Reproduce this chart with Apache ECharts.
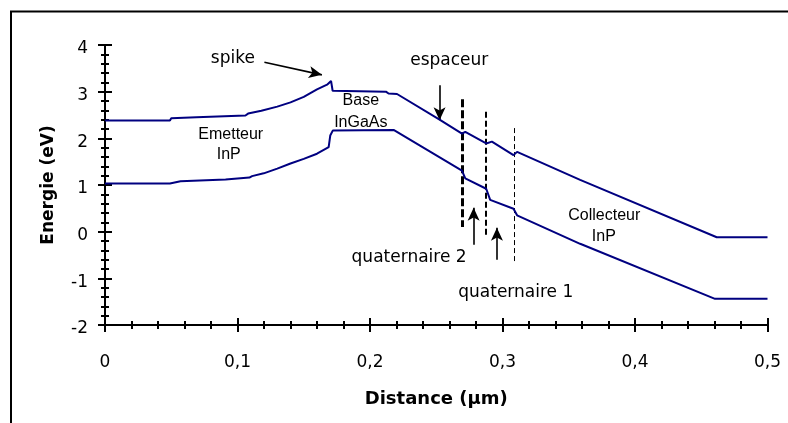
<!DOCTYPE html>
<html>
<head>
<meta charset="utf-8">
<script src="https://cdn.jsdelivr.net/npm/echarts@6/dist/echarts.min.js"></script>
<style>
html,body{margin:0;padding:0;background:#fff;}
#chart{width:788px;height:423px;}
</style>
</head>
<body>
<div id="chart"></div>
<script>
// ---- Data ----
const xTicks = [0, 0.1, 0.2, 0.3, 0.4, 0.5];
const yTicks = [-2, -1, 0, 1, 2, 3, 4];

// upper band edge: [distance (µm), energy (eV)]
const upperX = [0, 0.049, 0.050, 0.069, 0.070, 0.106, 0.108, 0.118, 0.130, 0.140, 0.150, 0.160, 0.1676, 0.1706, 0.1718, 0.212, 0.214, 0.2204, 0.2525, 0.2694, 0.2719, 0.2877, 0.292, 0.3083, 0.311, 0.3586, 0.4617, 0.5];
const upperY = [2.38, 2.38, 2.43, 2.45, 2.48, 2.49, 2.53, 2.59, 2.68, 2.77, 2.89, 3.05, 3.15, 3.23, 3.02, 3.00, 2.96, 2.95, 2.40, 2.10, 2.14, 1.89, 1.93, 1.64, 1.71, 1.11, -0.12, -0.12];

// lower band edge
const lowerX = [0, 0.049, 0.050, 0.057, 0.058, 0.091, 0.092, 0.109, 0.111, 0.1198, 0.130, 0.140, 0.150, 0.160, 0.1688, 0.1700, 0.172, 0.2178, 0.2694, 0.2719, 0.2877, 0.2907, 0.3083, 0.311, 0.3586, 0.4604, 0.5];
const lowerY = [1.03, 1.03, 1.07, 1.08, 1.11, 1.12, 1.15, 1.16, 1.19, 1.25, 1.35, 1.46, 1.56, 1.67, 1.81, 2.06, 2.17, 2.18, 1.31, 1.14, 0.92, 0.68, 0.49, 0.35, -0.26, -1.44, -1.44];

// layer boundaries (dashed verticals): x, top, bottom
const boundaryX = [0.2698, 0.2877, 0.3086];
const boundaryTop = [2.84, 2.57, 2.22];
const boundaryBottom = [0.10, -0.13, -0.67];

// annotation arrows: from -> to
const arrowFrom = [[0.1203, 3.63], [0.2525, 3.14], [0.2782, -0.28], [0.2958, -0.60]];
const arrowTo   = [[0.1637, 3.36], [0.2525, 2.39], [0.2782, 0.51], [0.2958, 0.085]];

// annotation texts
const labelText = ['spike', 'espaceur', 'Base', 'InGaAs', 'Emetteur', 'InP', 'Collecteur', 'InP', 'quaternaire 2', 'quaternaire 1'];
const labelX = [0.0965, 0.2598, 0.1931, 0.1931, 0.0949, 0.0934, 0.3768, 0.3765, 0.2295, 0.310];
const labelY = [3.70, 3.66, 2.80, 2.33, 2.07, 1.66, 0.34, -0.10, -0.56, -1.31];
const labelBig = [true, true, false, false, false, false, false, false, true, true];

// ---- Build ----
const zip = (a, b) => a.map((v, i) => [v, b[i]]);
const fmtX = v => (v === 0 ? '0' : (+v).toFixed(1).replace('.', ','));

const chart = echarts.init(document.getElementById('chart'), null, {renderer: 'canvas'});

const bigFont = {fontFamily: 'DejaVu Sans', fontSize: 17, color: '#000'};
const smallFont = {fontFamily: 'Liberation Sans', fontSize: 16, color: '#000'};

const dashStyles = [
  {width: 3, type: [8, 3]},
  {width: 2, type: [6, 3]},
  {width: 1, type: [5, 3]}
];

const xBase = {
  type: 'value', min: 0, max: 0.5, interval: 0.1, gridIndex: 0, position: 'bottom'
};
const yBase = {
  type: 'value', min: -2, max: 4, interval: 1, gridIndex: 0, position: 'left'
};

const option = {
  animation: false,
  backgroundColor: '#fff',
  grid: {left: 105, right: 20.5, top: 45, bottom: 98, containLabel: false},
  xAxis: [
    Object.assign({}, xBase, {
      name: 'Distance (µm)', nameLocation: 'middle', nameGap: 65,
      nameTextStyle: {fontFamily: 'DejaVu Sans', fontWeight: 'bold', fontSize: 18, color: '#000'},
      axisLine: {show: true, onZero: false, lineStyle: {color: '#000', width: 2}},
      axisTick: {show: true, inside: false, length: 7, lineStyle: {color: '#000', width: 2}},
      minorTick: {show: true, splitNumber: 5, length: 4, lineStyle: {color: '#000', width: 2}},
      axisLabel: {show: true, margin: 29, formatter: fmtX, fontFamily: 'DejaVu Sans', fontSize: 17, color: '#000'},
      splitLine: {show: false}, minorSplitLine: {show: false}
    }),
    Object.assign({}, xBase, {
      axisLine: {show: false, onZero: false},
      axisTick: {show: true, inside: true, length: 7, lineStyle: {color: '#000', width: 2}},
      minorTick: {show: true, splitNumber: 5, length: 4, lineStyle: {color: '#000', width: 2}},
      axisLabel: {show: false},
      splitLine: {show: false}
    })
  ],
  yAxis: [
    Object.assign({}, yBase, {
      name: 'Energie (eV)', nameLocation: 'middle', nameGap: 48,
      nameTextStyle: {fontFamily: 'DejaVu Sans', fontWeight: 'bold', fontSize: 17, color: '#000'},
      axisLine: {show: true, onZero: false, lineStyle: {color: '#000', width: 2}},
      axisTick: {show: true, inside: false, length: 7, lineStyle: {color: '#000', width: 2}},
      minorTick: {show: true, splitNumber: 5, length: 4, lineStyle: {color: '#000', width: 2}},
      axisLabel: {show: true, margin: 17, formatter: v => '{a|' + v + '}',
        rich: {a: {fontFamily: 'DejaVu Sans', fontSize: 17, color: '#000', padding: [8, 0, 0, 0]}},
        fontFamily: 'DejaVu Sans', fontSize: 17, color: '#000'},
      splitLine: {show: false}
    }),
    Object.assign({}, yBase, {
      axisLine: {show: false, onZero: false},
      axisTick: {show: true, inside: true, length: 7, lineStyle: {color: '#000', width: 2}},
      minorTick: {show: true, splitNumber: 5, length: 4, lineStyle: {color: '#000', width: 2}},
      axisLabel: {show: false},
      splitLine: {show: false}
    })
  ],
  graphic: [{
    type: 'rect', silent: true,
    shape: {x: 11, y: 11.5, width: 820, height: 440},
    style: {fill: 'none', stroke: '#000', lineWidth: 2}
  }],
  series: [
    {
      name: 'upper', type: 'line', data: zip(upperX, upperY),
      showSymbol: false, symbol: 'none',
      lineStyle: {color: '#000080', width: 2}, z: 5
    },
    {
      name: 'lower', type: 'line', data: zip(lowerX, lowerY),
      showSymbol: false, symbol: 'none',
      lineStyle: {color: '#000080', width: 2}, z: 5
    },
    {
      name: 'annotations', type: 'line', data: [],
      markLine: {
        silent: true, animation: false,
        label: {show: false},
        data: [
          ...boundaryX.map((x, i) => [
            {coord: [x, boundaryTop[i]], symbol: 'none', lineStyle: Object.assign({color: '#000'}, dashStyles[i])},
            {coord: [x, boundaryBottom[i]], symbol: 'none'}
          ]),
          ...arrowFrom.map((f, i) => [
            {coord: f, symbol: 'none', lineStyle: {color: '#000', width: 1.6, type: 'solid'}},
            {coord: arrowTo[i], symbol: 'arrow', symbolSize: [9, 13]}
          ])
        ]
      }
    },
    {
      name: 'texts', type: 'scatter', symbolSize: 0, silent: true,
      itemStyle: {color: '#000', opacity: 1},
      data: labelText.map((t, i) => ({
        value: [labelX[i], labelY[i]],
        name: t,
        label: Object.assign({show: true, opacity: 1, position: [0, 0], align: 'center', verticalAlign: 'middle', formatter: '{b}'}, labelBig[i] ? bigFont : smallFont)
      })),
      z: 10
    }
  ]
};
chart.setOption(option);
</script>
</body>
</html>
